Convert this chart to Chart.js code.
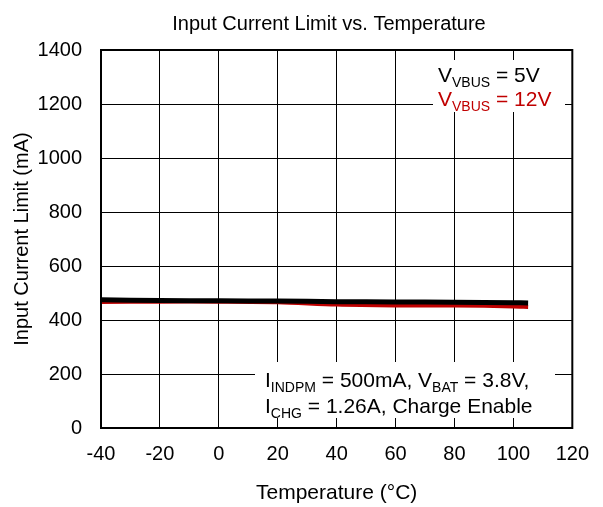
<!DOCTYPE html>
<html>
<head>
<meta charset="utf-8">
<script src="https://cdn.jsdelivr.net/npm/chart.js@4.4.1/dist/chart.umd.min.js"></script>
<style>
  html, body { margin: 0; padding: 0; background: #fff; }
  #wrap { width: 603px; height: 507px; }
</style>
</head>
<body>
<div id="wrap"><canvas id="chart" width="603" height="507"></canvas></div>
<script>
// temperature points (°C) and input current limit (mA)
const temps = [-40, -20, 0, 20, 40, 60, 80, 100, 105];
const vbus5 = [475, 472, 471, 470, 468, 467, 466, 464, 463];
const vbus12 = [467, 468, 468, 466, 457, 454, 454, 450, 448];
const xTicks = [-40, -20, 0, 20, 40, 60, 80, 100, 120];
const yTicks = [0, 200, 400, 600, 800, 1000, 1200, 1400];

const font = "'Liberation Sans', Arial, sans-serif";
const red = '#C00000';

const toPoints = (xs, ys) => xs.map((x, i) => ({ x: x, y: ys[i] }));

// draw text runs like [['V', 'VBUS'], [' = 5V']] with subscripts
function drawRuns(ctx, runs, x, y, color) {
    ctx.fillStyle = color;
    ctx.textBaseline = 'alphabetic';
    ctx.textAlign = 'left';
    let cx = x;
    runs.forEach(([main, sub]) => {
        ctx.font = '21px ' + font;
        ctx.fillText(main, cx, y);
        cx += ctx.measureText(main).width;
        if (sub) {
            ctx.font = '14px ' + font;
            ctx.fillText(sub, cx, y + 5);
            cx += ctx.measureText(sub).width;
        }
    });
}

const notes = {
    id: 'notes',
    beforeDatasetsDraw(chart) {
        const ctx = chart.ctx;
        ctx.save();
        ctx.fillStyle = '#fff';
        ctx.fillRect(433, 60, 132, 52);
        ctx.fillRect(255, 362, 300, 56);
        ctx.restore();
    },
    afterDatasetsDraw(chart) {
        const ctx = chart.ctx;
        const a = chart.chartArea;
        ctx.save();
        ctx.strokeStyle = '#000';
        ctx.lineWidth = 2;
        ctx.strokeRect(a.left, a.top, a.right - a.left, a.bottom - a.top);
        // chart title, centred a little left of the plot centre
        ctx.fillStyle = '#000';
        ctx.font = '20px ' + font;
        ctx.textAlign = 'center';
        ctx.textBaseline = 'alphabetic';
        ctx.fillText('Input Current Limit vs. Temperature', 329, 30);
        drawRuns(ctx, [['V', 'VBUS'], [' = 5V']], 438, 82, '#000');
        drawRuns(ctx, [['V', 'VBUS'], [' = 12V']], 438, 106, red);
        drawRuns(ctx, [['I', 'INDPM'], [' = 500mA, V', 'BAT'], [' = 3.8V,']], 265, 387, '#000');
        drawRuns(ctx, [['I', 'CHG'], [' = 1.26A, Charge Enable']], 265, 413, '#000');
        ctx.restore();
    }
};

new Chart(document.getElementById('chart'), {
    type: 'scatter',
    data: {
        datasets: [
            {
                label: 'VVBUS = 5V',
                data: toPoints(temps, vbus5),
                showLine: true,
                borderColor: '#000',
                borderWidth: 5,
                pointRadius: 0,
                tension: 0.3
            },
            {
                label: 'VVBUS = 12V',
                data: toPoints(temps, vbus12),
                showLine: true,
                borderColor: red,
                borderWidth: 4,
                pointRadius: 0,
                tension: 0.3
            }
        ]
    },
    options: {
        responsive: false,
        animation: false,
        layout: { padding: { left: 0, right: 27.3, top: 50, bottom: 0 } },
        plugins: {
            legend: { display: false },
            tooltip: { enabled: false },
            title: { display: false }
        },
        scales: {
            x: {
                type: 'linear',
                min: -40,
                max: 120,
                afterBuildTicks: (s) => { s.ticks = xTicks.map(v => ({ value: v })); },
                afterFit: (s) => { s.height = 79; },
                grid: { color: '#000', lineWidth: 1, drawTicks: false },
                border: { display: false },
                ticks: {
                    color: '#000', padding: 14, maxRotation: 0,
                    font: { family: font, size: 20 },
                    callback: (v) => String(v)
                },
                title: {
                    display: true,
                    text: 'Temperature (°C)',
                    color: '#000',
                    font: { family: font, size: 21 },
                    padding: { top: 0, bottom: 1.5 }
                }
            },
            y: {
                min: 0,
                max: 1400,
                afterBuildTicks: (s) => { s.ticks = yTicks.map(v => ({ value: v })); },
                afterFit: (s) => { s.width = 101; },
                grid: { color: '#000', lineWidth: 1, drawTicks: false },
                border: { display: false },
                ticks: {
                    color: '#000', padding: 19,
                    font: { family: font, size: 20 },
                    callback: (v) => String(v)
                },
                title: {
                    display: true,
                    text: 'Input Current Limit (mA)',
                    color: '#000',
                    font: { family: font, size: 20 },
                    padding: { top: 10, bottom: 0 }
                }
            }
        }
    },
    plugins: [notes]
});
</script>
</body>
</html>
